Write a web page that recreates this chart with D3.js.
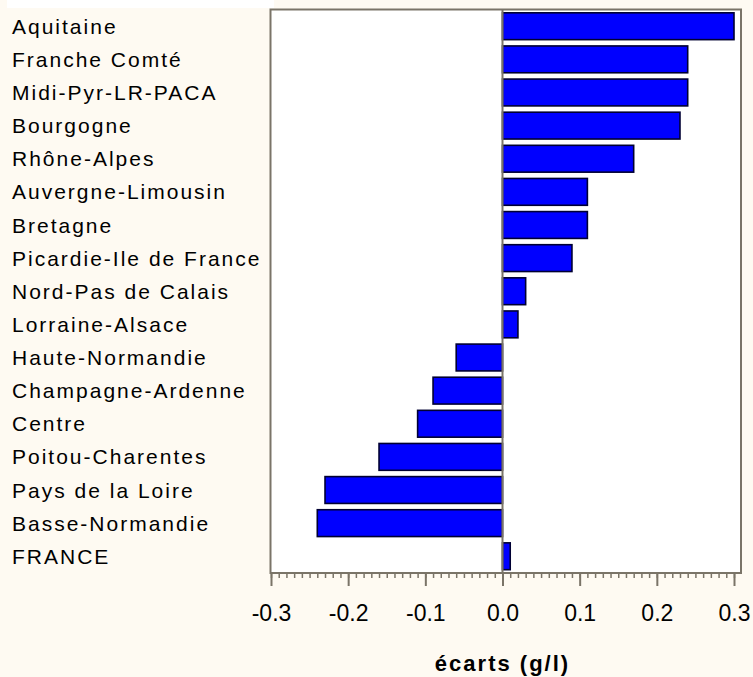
<!DOCTYPE html>
<html><head><meta charset="utf-8">
<script src="https://cdn.jsdelivr.net/npm/d3@7"></script>
<style>
html,body{margin:0;padding:0;background:#fefaf2;}
svg{display:block;}
</style></head>
<body>
<script>
const categories = ["Aquitaine","Franche Comté","Midi-Pyr-LR-PACA","Bourgogne","Rhône-Alpes","Auvergne-Limousin","Bretagne","Picardie-Ile de France","Nord-Pas de Calais","Lorraine-Alsace","Haute-Normandie","Champagne-Ardenne","Centre","Poitou-Charentes","Pays de la Loire","Basse-Normandie","FRANCE"];
const values = [0.30,0.24,0.24,0.23,0.17,0.11,0.11,0.09,0.03,0.02,-0.06,-0.09,-0.11,-0.16,-0.23,-0.24,0.01];
const tickValues = [-0.3,-0.2,-0.1,0.0,0.1,0.2,0.3];
const tickLabels = ["-0.3","-0.2","-0.1","0.0","0.1","0.2","0.3"];
const xTitle = "écarts (g/l)";

const W = 753, H = 677;
const FONT = "'Liberation Sans', Arial, sans-serif";
const svg = d3.select("body").append("svg").attr("width", W).attr("height", H);
svg.append("rect").attr("width", W).attr("height", H).attr("fill", "#fefaf2");
// remnant of a clipped header
svg.append("rect").attr("x", 7).attr("y", 0).attr("width", 267).attr("height", 8).attr("fill", "#ffffff");

const plot = {left: 270.5, right: 741, top: 9.5, bottom: 573};
const x = d3.scaleLinear().domain([-0.3, 0.3]).range([271, 734]);
const y = d3.scaleBand().domain(categories).range([plot.top, plot.bottom]).paddingInner(0.19).paddingOuter(0.1);

svg.append("rect").attr("x", plot.left).attr("y", plot.top)
  .attr("width", plot.right - plot.left).attr("height", plot.bottom - plot.top)
  .attr("fill", "#ffffff").attr("stroke", "#7a7468").attr("stroke-width", 2);

svg.append("g").selectAll("rect").data(categories).join("rect")
  .attr("x", (d, i) => x(Math.min(0, values[i])))
  .attr("width", (d, i) => Math.abs(x(values[i]) - x(0)))
  .attr("y", d => y(d))
  .attr("height", y.bandwidth())
  .attr("fill", "#0000ff").attr("stroke", "#000033").attr("stroke-width", 1.6);

// zero line
svg.append("line").attr("x1", x(0)).attr("x2", x(0)).attr("y1", plot.top).attr("y2", plot.bottom)
  .attr("stroke", "#7a7468").attr("stroke-width", 2);

// category labels
svg.append("g").selectAll("text").data(categories).join("text")
  .attr("x", 12).attr("y", d => y(d) + y.bandwidth() / 2)
  .attr("dy", "0.36em")
  .attr("font-family", FONT)
  .attr("font-size", 21).attr("letter-spacing", "2px")
  .attr("fill", "#000").text(d => d);

// x axis: minor ticks
const minor = d3.range(-30, 31).map(v => v / 100);
const axisG = svg.append("g").attr("transform", `translate(0,${plot.bottom})`);
const axisMinor = d3.axisBottom(x).tickValues(minor).tickSize(5).tickFormat("");
const axisMajor = d3.axisBottom(x).tickValues(tickValues).tickSize(13).tickPadding(19)
  .tickFormat((d, i) => tickLabels[i]);
axisG.append("g").call(axisMinor).call(g => g.select(".domain").remove())
  .selectAll("line").attr("stroke", "#7a7468").attr("stroke-width", 1.5);
const maj = axisG.append("g").call(axisMajor);
maj.select(".domain").remove();
maj.selectAll("line").attr("stroke", "#7a7468").attr("stroke-width", 2);
maj.selectAll("text").attr("font-family", FONT)
  .attr("font-size", 23).attr("fill", "#000");

svg.append("text").attr("x", x(0)).attr("y", 671)
  .attr("text-anchor", "middle")
  .attr("font-family", FONT)
  .attr("font-size", 22).attr("font-weight", "bold").attr("letter-spacing", "2px")
  .text(xTitle);
</script>
</body></html>
